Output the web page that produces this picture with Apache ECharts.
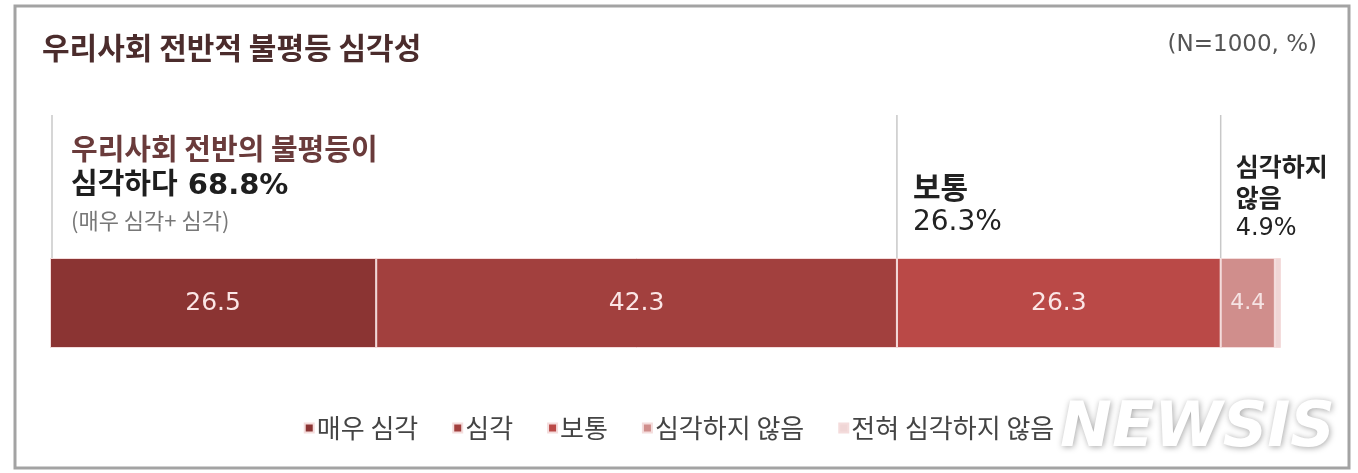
<!DOCTYPE html>
<html><head><meta charset="utf-8">
<script src="https://cdn.jsdelivr.net/npm/echarts@6/dist/echarts.min.js"></script>
<style>html,body{margin:0;padding:0;background:#fff}#c{width:1358px;height:473px}</style>
</head><body><div id="c"></div>
<script>
const categories = ['우리사회 전반적 불평등'];
const seriesNames = ['매우 심각', '심각', '보통', '심각하지 않음', '전혀 심각하지 않음'];
const verySerious = [26.5];
const serious = [42.3];
const normal = [26.3];
const notSerious = [4.4];
const notAtAll = [0.5];
const groupTotals = [68.8, 26.3, 4.9];
const titleText = '우리사회 전반적 불평등 심각성';
const noteText = '(N=1000, %)';

const FONT = '"Noto Sans CJK KR", "Noto Sans", sans-serif';
const MIXED = '"DejaVu Sans", "Noto Sans CJK KR", sans-serif';
const colors = ['#8b3433', '#a2403e', '#ba4947', '#d08e8c', '#f0d6d6'];
const valueSets = [verySerious, serious, normal, notSerious, notAtAll];

const chart = echarts.init(document.getElementById('c'), null, {renderer: 'canvas'});
const series = seriesNames.map((name, i) => ({
  name: name,
  type: 'bar',
  stack: 'total',
  barWidth: '100%',
  data: valueSets[i],
  itemStyle: {color: colors[i], borderColor: '#f4dcdc', borderWidth: 1},
  label: {
    show: i < 4,
    position: 'inside',
    color: i === 3 ? '#f6e4e4' : '#fbe6e6',
    fontFamily: '"DejaVu Sans", sans-serif',
    fontSize: i === 3 ? 22 : 25,
    formatter: p => p.value.toFixed(1)
  },
  emphasis: {disabled: true},
  silent: true
}));

chart.setOption({
  animation: false,
  backgroundColor: '#fff',
  grid: {left: 50, right: 77, top: 258, bottom: 125},
  xAxis: {type: 'value', min: 0, max: 100, show: false},
  yAxis: {type: 'category', data: categories, show: false},
  legend: {
    top: 410,
    left: 'center',
    icon: 'rect',
    itemWidth: 9,
    itemHeight: 9,
    itemGap: 34,
    textStyle: {fontFamily: FONT, fontSize: 26, color: '#444', padding: [0, 0, 0, -2]},
    data: seriesNames
  },
  series: series
});

const px = v => chart.convertToPixel({xAxisIndex: 0}, v);
const b1 = groupTotals[0];
const b2 = groupTotals[0] + groupTotals[1];
const x0 = px(0), x1 = px(b1), x2 = px(b2);
const lineTop = 115, lineBot = 258;

function txt(x, y, text, font, fill, align) {
  return {type: 'text', x: x, y: y, silent: true,
    style: {text: text, font: font, fill: fill, align: align || 'left', verticalAlign: 'middle'}};
}
function vline(x) {
  return {type: 'line', silent: true, shape: {x1: x, y1: lineTop, x2: x, y2: lineBot},
    style: {stroke: '#c8c8c8', lineWidth: 1.5}};
}

chart.setOption({
  graphic: [
    {type: 'rect', silent: true, shape: {x: 15, y: 6, width: 1334, height: 462},
      style: {fill: 'none', stroke: '#a3a3a3', lineWidth: 3}},
    txt(42, 48, titleText, '700 30px ' + FONT, '#4b2c2c'),
    txt(1317, 45, noteText, '400 23px "DejaVu Sans", sans-serif', '#555', 'right'),
    vline(x0 + 2), vline(x1), vline(x2),
    txt(x0 + 21, 149, '우리사회 전반의 불평등이', '600 29px ' + FONT, '#6a3b3b'),
    txt(x0 + 21, 186, '심각하다 ' + groupTotals[0].toFixed(1) + '%', '700 29px ' + MIXED, '#1e1e1e'),
    txt(x0 + 21, 221, '(매우 심각+ 심각)', '400 22px ' + FONT, '#777'),
    txt(x1 + 16, 187, '보통', '600 30px ' + FONT, '#222'),
    txt(x1 + 16, 223, groupTotals[1].toFixed(1) + '%', '400 28px "DejaVu Sans", sans-serif', '#222'),
    txt(x2 + 15, 166, '심각하지', '600 25px ' + FONT, '#222'),
    txt(x2 + 15, 197, '않음', '600 25px ' + FONT, '#222'),
    txt(x2 + 15, 229, groupTotals[2].toFixed(1) + '%', '400 24px "DejaVu Sans", sans-serif', '#222'),
    {type: 'text', x: 1060, y: 430, silent: true,
      style: {text: 'NEWSIS', font: 'italic 900 62px "DejaVu Sans", sans-serif', fill: '#ffffff',
        verticalAlign: 'middle', textShadowColor: 'rgba(0,0,0,0.35)', textShadowBlur: 6,
        textShadowOffsetX: 1, textShadowOffsetY: 1}}
  ]
});
</script>
</body></html>
